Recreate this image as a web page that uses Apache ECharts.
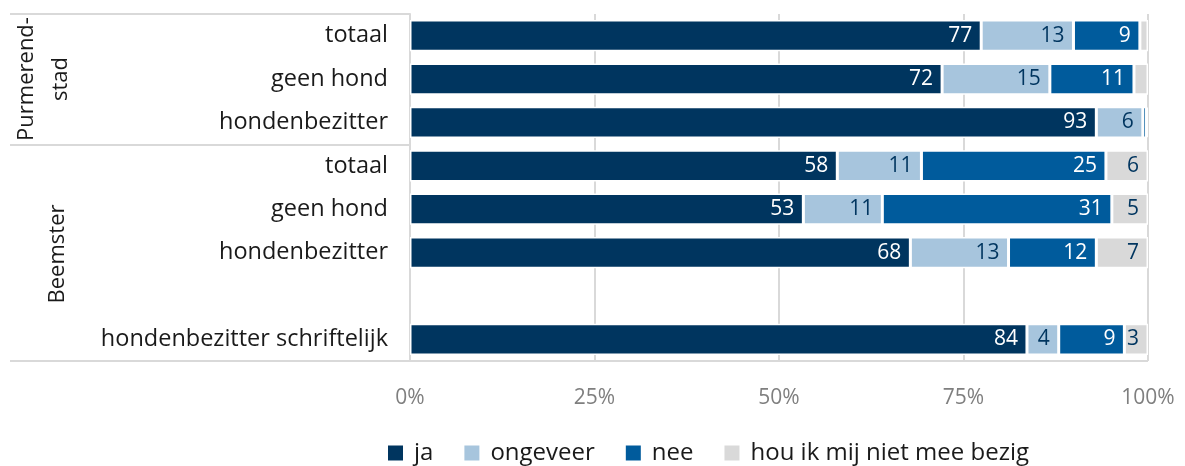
<!DOCTYPE html>
<html>
<head>
<meta charset="utf-8">
<script src="https://cdn.jsdelivr.net/npm/echarts@6/dist/echarts.min.js"></script>
<style>html,body{margin:0;padding:0;background:#fff;}#c{width:1185px;height:466px;}</style>
</head>
<body>
<div id="c"></div>
<script>
const categories = ['totaal', 'geen hond', 'hondenbezitter', 'totaal', 'geen hond', 'hondenbezitter', '', 'hondenbezitter schriftelijk'];
const seriesNames = ['ja', 'ongeveer', 'nee', 'hou ik mij niet mee bezig'];
const ja       = [77.4, 72.1, 93.0, 57.9, 53.3, 67.8, null, 83.6];
const ongeveer = [12.5, 14.6, 6.3, 11.4, 10.7, 13.3, null, 4.3];
const nee      = [9.0, 11.4, 0.5, 25.0, 31.1, 11.9, null, 8.9];
const houIk    = [1.1, 1.9, 0.2, 5.7, 4.9, 7.0, null, 3.2];
const xTicks = [0, 25, 50, 75, 100];
const groupLabels = ['Purmerend-\nstad', 'Beemster'];

const FONT = 'Open Sans';
const colors = ['#00355f', '#a7c5dd', '#005b9c', '#d9d9d9'];
const labelColors = ['#ffffff', '#00355f', '#ffffff', '#00355f'];
const values = [ja, ongeveer, nee, houIk];

const chart = echarts.init(document.getElementById('c'));
const series = values.map((arr, i) => ({
  name: seriesNames[i],
  type: 'bar',
  stack: 'all',
  data: arr,
  barCategoryGap: '28%',
  itemStyle: { color: colors[i], borderColor: '#ffffff', borderWidth: 1.5 },
  label: {
    show: true,
    position: 'insideRight',
    distance: 9,
    fontFamily: FONT,
    fontSize: 21,
    color: labelColors[i],
    formatter: p => (p.value == null || p.value < 2.5) ? '' : String(Math.round(p.value))
  },
  emphasis: { disabled: true }
}));

chart.setOption({
  animation: false,
  textStyle: { fontFamily: FONT },
  grid: { left: 410, right: 37, top: 14, bottom: 105 },
  legend: {
    data: seriesNames,
    left: 381,
    top: 436,
    itemWidth: 17,
    itemHeight: 17,
    itemGap: 29,
    icon: 'rect',
    textStyle: { fontFamily: FONT, fontSize: 24, color: '#1a1a1a', padding: [0, 0, 0, 5] }
  },
  xAxis: {
    type: 'value',
    min: 0,
    max: 100,
    interval: 25,
    axisLine: { show: false },
    axisTick: { show: false },
    axisLabel: { formatter: v => xTicks.includes(v) ? v + '%' : '', fontFamily: FONT, fontSize: 21, color: '#7f7f7f', margin: 27 },
    splitLine: { show: true, lineStyle: { color: '#d9d9d9', width: 2 } }
  },
  yAxis: {
    type: 'category',
    data: categories,
    inverse: true,
    axisLine: { show: true, lineStyle: { color: '#d9d9d9', width: 2 } },
    axisTick: { show: false },
    axisLabel: { fontFamily: FONT, fontSize: 23.5, color: '#1a1a1a', margin: 22 }
  },
  graphic: [
    { type: 'line', shape: { x1: 10, y1: 14, x2: 410, y2: 14 }, style: { stroke: '#d9d9d9', lineWidth: 2 } },
    { type: 'line', shape: { x1: 10, y1: 145, x2: 410, y2: 145 }, style: { stroke: '#d9d9d9', lineWidth: 2 } },
    { type: 'line', shape: { x1: 10, y1: 361, x2: 1148, y2: 361 }, style: { stroke: '#d9d9d9', lineWidth: 2 } },
    { type: 'text', x: 44, y: 79, rotation: Math.PI / 2,
      style: { text: groupLabels[0], fontFamily: FONT, fontSize: 22, fill: '#1a1a1a', align: 'center', verticalAlign: 'middle', lineHeight: 34 } },
    { type: 'text', x: 58, y: 254, rotation: Math.PI / 2,
      style: { text: groupLabels[1], fontFamily: FONT, fontSize: 22, fill: '#1a1a1a', align: 'center', verticalAlign: 'middle' } }
  ],
  series: series
});
</script>
</body>
</html>
